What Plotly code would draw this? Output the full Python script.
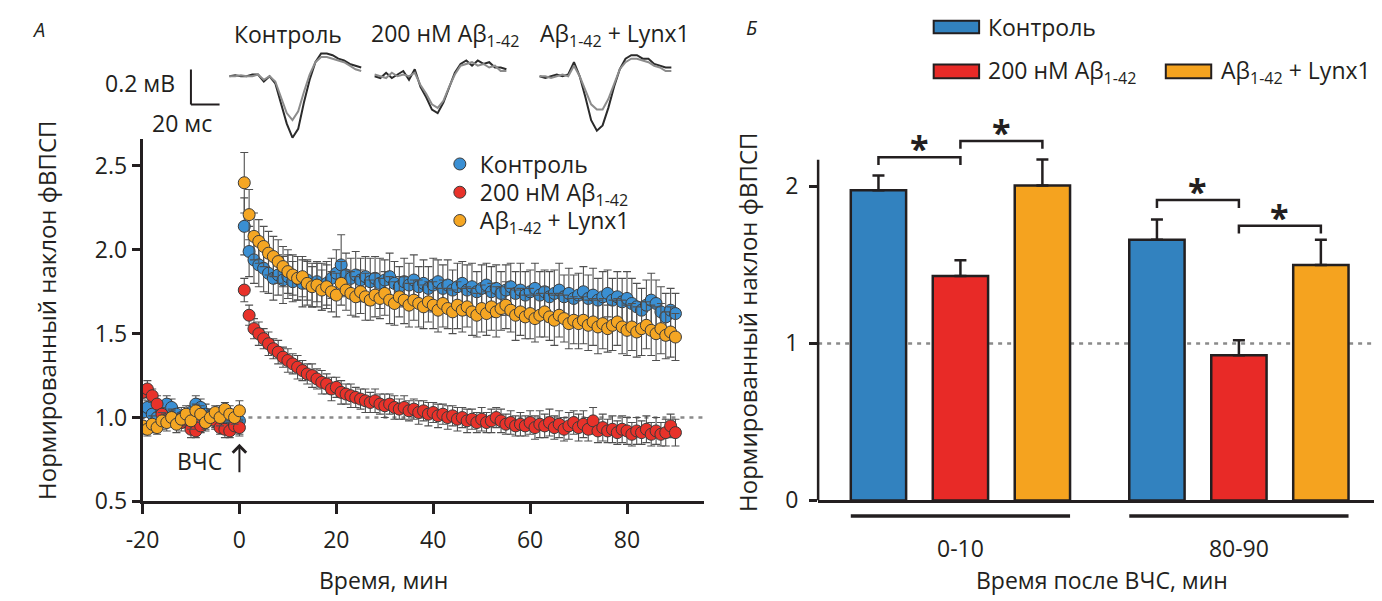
import plotly.graph_objects as go

W, H = 1382, 601
def X(px): return px / W
def Y(py): return 1 - py / H

FONT = "Open Sans"
INK = "#231f20"
FS = 23

# ---------------- data: panel A (normalized fEPSP slope vs time) ----------------
series_names = ["Контроль", "200 нМ Аβ<sub>1-42</sub>", "Аβ<sub>1-42</sub> + Lynx1"]
series_colors = ["#3a8fd3", "#e8322a", "#f5a623"]

time_min = list(range(-20, 1)) + list(range(1, 91))

control_vals = [1.03,1.06,1.02,1.00,1.04,1.08,1.06,1.02,1.00,0.99,1.03,1.08,1.06,1.02,1.01,0.99,1.02,0.97,0.98,0.96,0.98,
    2.14,1.99,1.94,1.91,1.89,1.86,1.83,1.85,1.82,1.84,
    1.81,1.83,1.80,1.82,1.79,1.81,1.78,1.80,1.83,1.86,
    1.91,1.85,1.83,1.85,1.82,1.84,1.81,1.83,1.80,1.82,
    1.84,1.80,1.78,1.81,1.79,1.82,1.78,1.80,1.77,1.79,
    1.81,1.77,1.79,1.76,1.78,1.80,1.76,1.78,1.75,1.77,
    1.79,1.75,1.77,1.74,1.76,1.78,1.74,1.76,1.73,1.75,
    1.77,1.73,1.75,1.72,1.74,1.76,1.72,1.74,1.71,1.73,
    1.75,1.71,1.73,1.70,1.72,1.74,1.70,1.72,1.69,1.71,
    1.68,1.66,1.64,1.67,1.70,1.68,1.63,1.60,1.64,1.62]
abeta_vals = [1.15,1.17,1.13,1.08,1.02,0.99,1.00,0.98,0.97,0.99,0.93,0.92,0.95,0.97,1.00,0.98,0.94,0.93,0.92,0.95,0.94,
    1.76,1.61,1.53,1.50,1.47,1.44,1.41,1.39,1.36,1.34,
    1.32,1.30,1.28,1.26,1.25,1.23,1.21,1.20,1.17,1.18,
    1.15,1.14,1.13,1.12,1.11,1.10,1.09,1.10,1.08,1.07,
    1.08,1.06,1.05,1.06,1.04,1.05,1.03,1.04,1.02,1.03,
    1.01,1.02,1.00,1.01,0.99,1.00,0.98,0.99,0.97,0.99,
    0.97,0.98,1.00,0.98,0.96,0.97,0.95,0.96,0.95,0.97,
    0.94,0.96,0.95,0.97,0.94,0.96,0.93,0.95,0.97,0.94,
    0.96,0.93,0.98,0.92,0.94,0.92,0.93,0.91,0.93,0.92,
    0.90,0.92,0.91,0.93,0.90,0.92,0.90,0.91,0.95,0.91]
lynx_vals = [0.95,0.93,0.96,0.94,0.98,0.97,1.00,0.96,0.99,1.02,0.98,1.04,1.02,0.97,1.00,1.03,1.00,1.05,1.02,1.00,1.04,
    2.40,2.21,2.08,2.05,2.02,1.98,1.96,1.93,1.90,1.87,
    1.85,1.83,1.84,1.80,1.78,1.79,1.76,1.78,1.75,1.73,
    1.80,1.76,1.74,1.72,1.75,1.72,1.70,1.73,1.71,1.74,
    1.70,1.68,1.72,1.70,1.67,1.70,1.68,1.66,1.69,1.67,
    1.64,1.68,1.65,1.63,1.67,1.64,1.66,1.63,1.61,1.65,
    1.62,1.66,1.63,1.65,1.67,1.64,1.61,1.63,1.60,1.62,
    1.59,1.61,1.63,1.60,1.58,1.61,1.59,1.56,1.58,1.56,
    1.58,1.55,1.57,1.54,1.56,1.53,1.55,1.57,1.54,1.52,
    1.54,1.51,1.53,1.55,1.52,1.50,1.53,1.49,1.51,1.48]

control_err = [0.05,0.04,0.05,0.06,0.04,0.05,0.05,0.04,0.06,0.05,0.04,0.05,0.05,0.06,0.04,0.05,0.05,0.04,0.06,0.05,0.08,
    0.17,0.15,0.14,0.13,0.14,0.12,0.13,0.12,0.14,0.13,
    0.12,0.13,0.14,0.12,0.13,0.12,0.14,0.13,0.12,0.14,
    0.18,0.13,0.12,0.14,0.13,0.12,0.14,0.13,0.15,0.12,
    0.14,0.13,0.12,0.14,0.13,0.15,0.12,0.14,0.13,0.16,
    0.13,0.14,0.15,0.12,0.14,0.13,0.15,0.14,0.12,0.14,
    0.13,0.15,0.14,0.13,0.15,0.14,0.13,0.16,0.14,0.13,
    0.15,0.14,0.13,0.15,0.14,0.16,0.13,0.15,0.14,0.13,
    0.15,0.14,0.16,0.13,0.15,0.14,0.13,0.15,0.14,0.16,
    0.15,0.14,0.13,0.15,0.16,0.14,0.15,0.14,0.13,0.12]
abeta_err = [0.04,0.05,0.04,0.05,0.04,0.04,0.05,0.04,0.05,0.04,0.05,0.04,0.04,0.05,0.04,0.05,0.04,0.05,0.04,0.04,0.05,
    0.07,0.06,0.06,0.07,0.06,0.07,0.06,0.07,0.06,0.07,
    0.06,0.07,0.06,0.06,0.07,0.06,0.07,0.06,0.07,0.06,
    0.07,0.06,0.07,0.06,0.06,0.07,0.06,0.07,0.06,0.07,
    0.06,0.07,0.06,0.07,0.06,0.06,0.07,0.06,0.07,0.06,
    0.07,0.06,0.07,0.06,0.07,0.06,0.07,0.06,0.06,0.07,
    0.06,0.07,0.06,0.07,0.06,0.07,0.06,0.07,0.06,0.07,
    0.07,0.08,0.07,0.08,0.07,0.08,0.07,0.08,0.07,0.08,
    0.08,0.07,0.08,0.07,0.08,0.07,0.08,0.07,0.08,0.08,
    0.07,0.08,0.07,0.08,0.07,0.08,0.07,0.08,0.07,0.08]
lynx_err = [0.05,0.04,0.05,0.04,0.05,0.05,0.04,0.05,0.04,0.05,0.05,0.04,0.05,0.04,0.05,0.04,0.05,0.04,0.05,0.04,0.06,
    0.18,0.15,0.14,0.13,0.12,0.13,0.12,0.13,0.12,0.13,
    0.12,0.13,0.12,0.13,0.12,0.13,0.12,0.13,0.12,0.13,
    0.13,0.12,0.13,0.12,0.13,0.14,0.12,0.13,0.12,0.13,
    0.14,0.13,0.12,0.14,0.13,0.12,0.14,0.13,0.12,0.14,
    0.13,0.14,0.12,0.13,0.14,0.13,0.12,0.14,0.13,0.14,
    0.13,0.14,0.15,0.13,0.14,0.13,0.15,0.14,0.13,0.15,
    0.14,0.13,0.15,0.14,0.15,0.13,0.14,0.15,0.14,0.15,
    0.14,0.15,0.14,0.16,0.15,0.14,0.15,0.14,0.16,0.15,
    0.14,0.15,0.16,0.14,0.15,0.16,0.15,0.14,0.15,0.14]

x_ticks_a = [-20, 0, 20, 40, 60, 80]
y_ticks_a = [0.5, 1.0, 1.5, 2.0, 2.5]

# ---------------- data: panel B (bars) ----------------
groups = ["0-10", "80-90"]
bar_names = ["Контроль", "200 нМ Аβ<sub>1-42</sub>", "Аβ<sub>1-42</sub> + Lynx1"]
bar_colors = ["#3282bf", "#e82a27", "#f5a31f"]
bar_vals = [[1.975, 1.66], [1.43, 0.925], [2.006, 1.50]]
bar_err = [[0.095, 0.13], [0.10, 0.095], [0.165, 0.16]]
y_ticks_b = [0, 1, 2]
# significance brackets: (group index, bar i, bar j, height)
brackets = [(0, 0, 1, 2.186), (0, 1, 2, 2.29), (1, 0, 1, 1.913), (1, 1, 2, 1.75)]

# ---------------- data: example fEPSP recordings (ms, mV) ----------------
rec_time = [0, 4, 8, 12, 16, 20, 24, 28, 32, 36, 40, 44, 48, 52, 56, 60, 64, 68, 72, 76, 80, 84, 88, 92]
rec_titles = ["Контроль", "200 нМ Аβ<sub>1-42</sub>", "Аβ<sub>1-42</sub> + Lynx1"]
rec_dark = [
    [0.0,0.005,0.0,0.0,0.01,0.01,-0.03,0.0,-0.04,-0.15,-0.27,-0.35,-0.30,-0.15,-0.02,0.08,0.13,0.13,0.12,0.10,0.09,0.07,0.06,0.05],
    [0.0,-0.01,0.02,-0.01,0.01,0.03,-0.02,0.04,-0.06,-0.12,-0.19,-0.21,-0.15,-0.07,0.02,0.07,0.09,0.06,0.09,0.07,0.08,0.05,0.05,0.04],
    [0.0,-0.01,0.0,0.01,0.0,0.01,0.08,0.0,-0.12,-0.25,-0.31,-0.28,-0.18,-0.06,0.04,0.10,0.12,0.12,0.10,0.10,0.07,0.06,0.05,0.05]]
rec_gray = [
    [0.0,0.0,0.005,0.0,0.0,0.01,-0.02,0.0,-0.03,-0.12,-0.21,-0.25,-0.20,-0.09,0.01,0.08,0.11,0.11,0.10,0.09,0.08,0.06,0.04,0.03],
    [0.01,0.0,-0.01,0.02,0.0,0.01,0.0,0.02,-0.05,-0.10,-0.16,-0.18,-0.14,-0.06,0.01,0.06,0.07,0.08,0.06,0.07,0.05,0.06,0.03,0.03],
    [0.0,0.0,-0.01,0.0,0.01,0.0,0.06,0.0,-0.08,-0.16,-0.19,-0.19,-0.13,-0.04,0.04,0.08,0.10,0.10,0.09,0.08,0.06,0.05,0.03,0.03]]
scale_ms, scale_mv = 20, 0.2

fig = go.Figure()

# ---------------- panel A traces (one legend per entry for exact placement) ----------------
legend_ids = ["legend", "legend2", "legend3"]
for name, col, vals, err, lid in zip(series_names, series_colors,
                                     [control_vals, abeta_vals, lynx_vals],
                                     [control_err, abeta_err, lynx_err], legend_ids):
    fig.add_trace(go.Scatter(
        x=time_min, y=vals, mode="markers", name=name, xaxis="x", yaxis="y",
        marker=dict(size=12, color=col, line=dict(width=1, color="#3a3a3a")),
        error_y=dict(type="data", array=err, visible=True, color="#505050", thickness=1.1, width=4),
        legend=lid))

# ---------------- panel B bars ----------------
bargap, bargroupgap = 0.117, 0.325
gx = list(range(len(groups)))
for name, col, vals, err in zip(bar_names, bar_colors, bar_vals, bar_err):
    fig.add_trace(go.Bar(
        x=gx, y=vals, name=name, xaxis="x2", yaxis="y2", showlegend=False,
        marker=dict(color=col, line=dict(width=2.5, color=INK)),
        error_y=dict(type="data", array=err, arrayminus=[0] * len(err), symmetric=False,
                     color=INK, thickness=2.5, width=6)))

nb = len(bar_names)
slot = (1 - bargap) / nb
offsets = [(i - (nb - 1) / 2) * slot for i in range(nb)]
barw = slot * (1 - bargroupgap)
drop = 0.05
annotations = []
for g, i, j, h in brackets:
    xa, xb = g + offsets[i], g + offsets[j]
    fig.add_trace(go.Scatter(x=[xa, xa, xb, xb], y=[h - drop, h, h, h - drop], mode="lines",
                             xaxis="x2", yaxis="y2", showlegend=False, hoverinfo="skip",
                             line=dict(color=INK, width=2.5)))
    annotations.append(dict(x=(xa + xb) / 2, y=h, xref="x2", yref="y2", text="<b>*</b>",
                            showarrow=False, xanchor="center", yanchor="bottom", yshift=-16,
                            font=dict(size=34, color=INK, family=FONT)))

# ---------------- recordings ----------------
k_px_ms, k_px_mv = 1.45, 180.0
rec_t0 = [207, 354, 521]
rec_dom = [(160, 347), (350, 490), (515, 660)]
base_py, top_py, bot_py = 70, 38, 142
layout_axes = {}
for n in range(3):
    ax = n + 3
    for vals, col in ((rec_dark[n], "#2b2b2b"), (rec_gray[n], "#8c8c8c")):
        fig.add_trace(go.Scatter(x=rec_time, y=vals, mode="lines", xaxis=f"x{ax}", yaxis=f"y{ax}",
                                 showlegend=False, hoverinfo="skip",
                                 line=dict(color=col, width=2)))
    d0, d1 = rec_dom[n]
    layout_axes[f"xaxis{ax}"] = dict(domain=[X(d0), X(d1)], anchor=f"y{ax}", visible=False,
                                     range=[(d0 - rec_t0[n]) / k_px_ms, (d1 - rec_t0[n]) / k_px_ms])
    layout_axes[f"yaxis{ax}"] = dict(domain=[Y(bot_py), Y(top_py)], anchor=f"x{ax}", visible=False,
                                     range=[(base_py - bot_py) / k_px_mv, (base_py - top_py) / k_px_mv])

# scale bar (in recording-1 units)
sb_x1 = (197 - rec_t0[0]) / k_px_ms
sb_x0 = sb_x1 - scale_ms
sb_y0 = (base_py - 99) / k_px_mv
shapes = [
    dict(type="line", xref="x3", yref="y3", x0=sb_x0, x1=sb_x0, y0=sb_y0, y1=sb_y0 + scale_mv,
         line=dict(color=INK, width=2)),
    dict(type="line", xref="x3", yref="y3", x0=sb_x0, x1=sb_x1, y0=sb_y0, y1=sb_y0,
         line=dict(color=INK, width=2)),
    dict(type="line", xref="x", yref="y", x0=0, x1=95.8, y0=1, y1=1, layer="below",
         line=dict(color="#8a8a8a", width=2.5, dash="4px,5px")),
    dict(type="line", xref="x2 domain", yref="y2", x0=0, x1=1, y0=1, y1=1, layer="below",
         line=dict(color="#8a8a8a", width=2.5, dash="4px,5px")),
    dict(type="line", xref="x2 domain", yref="y2", x0=0, x1=0, y0=0, y1=2.17,
         line=dict(color=INK, width=2.5)),
]
for g in gx:
    shapes.append(dict(type="line", xref="x2", yref="paper",
                       x0=g + offsets[0] - barw / 2, x1=g + offsets[-1] + barw / 2,
                       y0=Y(521), y1=Y(521), line=dict(color=INK, width=3.5)))

# manual legend for bars
leg_boxes = [(920, 966, 13, 26), (920, 966, 58, 72), (1155, 1201, 58, 72)]
leg_text_x = [973, 973, 1209]
for (x0, x1, y0, y1), col, name, tx in zip(leg_boxes, bar_colors, bar_names, leg_text_x):
    shapes.append(dict(type="rect", xref="paper", yref="paper", x0=X(x0), x1=X(x1), y0=Y(y1), y1=Y(y0),
                       fillcolor=col, line=dict(color=INK, width=2)))
    annotations.append(dict(x=X(tx), y=Y((y0 + y1) / 2), xref="paper", yref="paper", text=name,
                            showarrow=False, xanchor="left", yanchor="middle",
                            font=dict(size=FS, color=INK, family=FONT)))

def txt(x, y, s, size=FS, **kw):
    d = dict(x=X(x), y=Y(y), xref="paper", yref="paper", text=s, showarrow=False,
             xanchor="center", yanchor="middle",
             font=dict(size=size, color=INK, family=FONT))
    d.update(kw)
    annotations.append(d)

for n in range(3):
    txt([266, 425, 597][n], 27, rec_titles[n])
txt(154, 77, "0.2 мВ", xanchor="right")
txt(159, 118, "20 мс")
txt(14, 22, "<i>А</i>", size=20)
txt(736, 20, "<i>Б</i>", size=20)
txt(22, 310, "Нормированный наклон фВПСП", size=24, textangle=-90)
txt(732, 322, "Нормированный наклон фВПСП", size=24, textangle=-90)
txt(363, 587, "Время, мин")
txt(1090, 587, "Время после ВЧС, мин")
txt(177, 465, "ВЧС")
annotations.append(dict(x=0, y=0.843, xref="x", yref="y", ax=0, ay=30, text="", showarrow=True,
                        arrowhead=4, arrowsize=1.3, arrowwidth=2, arrowcolor=INK))

axis_common = dict(showgrid=False, zeroline=False, linecolor=INK, linewidth=2.5,
                   tickcolor=INK, tickwidth=2.5, tickfont=dict(size=FS, color=INK, family=FONT))

legend_rows_py = [160, 189, 218]
legends = {}
for lid, py in zip(legend_ids, legend_rows_py):
    legends[lid] = dict(x=X(420), y=Y(py), xanchor="left", yanchor="middle", bgcolor="rgba(0,0,0,0)",
                        font=dict(size=FS, color=INK, family=FONT), tracegroupgap=0)

fig.update_layout(
    width=W, height=H, margin=dict(l=0, r=0, t=0, b=0),
    paper_bgcolor="white", plot_bgcolor="rgba(0,0,0,0)",
    font=dict(family=FONT, color=INK),
    barmode="group", bargap=bargap, bargroupgap=bargroupgap,
    xaxis=dict(domain=[X(119), X(687)], anchor="y", range=[-20, 95.8], showline=True,
               ticks="outside", ticklen=10, tickvals=x_ticks_a, ticktext=[str(v) for v in x_ticks_a],
               ticklabelstandoff=6, **axis_common),
    yaxis=dict(domain=[Y(506), Y(134.5)], anchor="x", range=[0.5, 2.66], showline=True,
               ticks="outside", ticklen=8, tickvals=y_ticks_a, tickformat=".1f", **axis_common),
    xaxis2=dict(domain=[X(803), X(1370)], anchor="y2", range=[-0.511, 1.5], showline=True,
                ticks="outside", ticklen=26, tickvals=gx, ticktext=groups,
                **{**axis_common, "tickcolor": "rgba(0,0,0,0)"}),
    yaxis2=dict(domain=[Y(505), Y(118.6)], anchor="x2", range=[0, 2.4], showline=False,
                ticks="outside", ticklen=8, tickvals=y_ticks_b, ticklabelstandoff=6, **axis_common),
    shapes=shapes, annotations=annotations,
    **legends, **layout_axes)

fig.write_html("out.html")
